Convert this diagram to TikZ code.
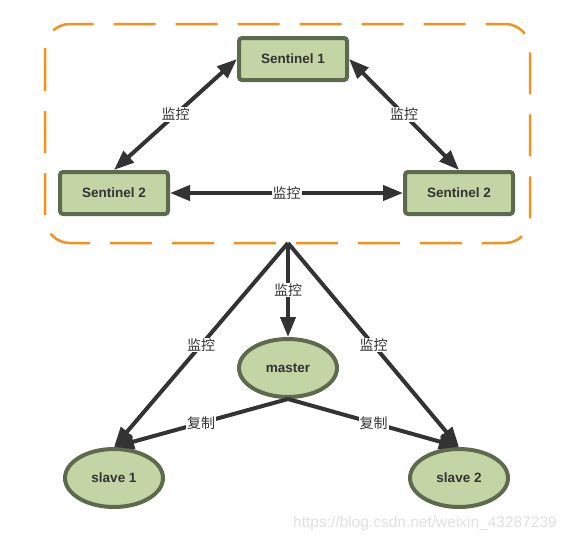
\documentclass[tikz,border=0pt]{standalone}
\usepackage{fontspec}
\setmainfont{Liberation Sans}
\newfontfamily\cjk{Noto Sans CJK SC}
\usetikzlibrary{arrows.meta,shapes.geometric}
\definecolor{nodefill}{HTML}{C3D5A4}
\definecolor{nodeedge}{HTML}{5E6A4E}
\definecolor{arrowc}{HTML}{333333}
\definecolor{orangec}{HTML}{F5921E}
\begin{document}
\begin{tikzpicture}[x=1pt,y=-1pt,
 sent/.style={draw=nodeedge, fill=nodefill, line width=4pt, rounded corners=3pt, minimum width=108pt, minimum height=42pt, font=\fontsize{13.5}{15}\selectfont\bfseries, text=arrowc, inner sep=0pt},
 ell/.style={ellipse, draw=nodeedge, fill=nodefill, line width=4pt, minimum width=98pt, minimum height=58pt, font=\fontsize{13.5}{15}\selectfont\bfseries, text=arrowc, inner sep=0pt},
 conn/.style={draw=arrowc, line width=4pt, -{Triangle[length=20pt,width=15pt]}},
 both/.style={draw=arrowc, line width=4pt, {Triangle[length=20pt,width=15pt]}-{Triangle[length=20pt,width=15pt]}},
 lab/.style={fill=white, font=\cjk\fontsize{14}{16}\selectfont, text=arrowc, inner sep=1pt}
]
\useasboundingbox (0,0) rectangle (570,541);
\draw[orangec, line width=2.5pt, dash pattern=on 42pt off 20pt, rounded corners=25pt] (45,24) rectangle (530,243);
\node[sent] (s1) at (293,59) {Sentinel 1};
\node[sent] (s2) at (114,193) {Sentinel 2};
\node[sent] (s3) at (459,193) {Sentinel 2};
\node[ell] (m) at (288,368) {master};
\node[ell] (sl1) at (114,478) {slave 1};
\node[ell] (sl2) at (459,478) {slave 2};
\coordinate (apex) at (288,243);
\draw[both] (s1.west) -- node[lab] (l1) {监控} (s2.north);
\draw[both] (s1.east) -- node[lab] (l2) {监控} (s3.north);
\draw[both] (s2.east) -- node[lab] (l3) {监控} (s3.west);
\draw[conn] (apex) -- node[lab] (l4) {监控} (m.north);
\draw[conn] (apex) -- node[lab] (l5) {监控} (sl1.north);
\draw[conn] (apex) -- node[lab] (l6) {监控} (sl2.north);
\draw[conn] (m.south) -- node[lab] (l7) {复制} (sl1.north);
\draw[conn] (m.south) -- node[lab] (l8) {复制} (sl2.north);
\node[text=black!12, font=\fontsize{15.5}{17}\selectfont] (wm) at (425,523) {https://blog.csdn.net/weixin\_43287239};
\end{tikzpicture}
\end{document}
